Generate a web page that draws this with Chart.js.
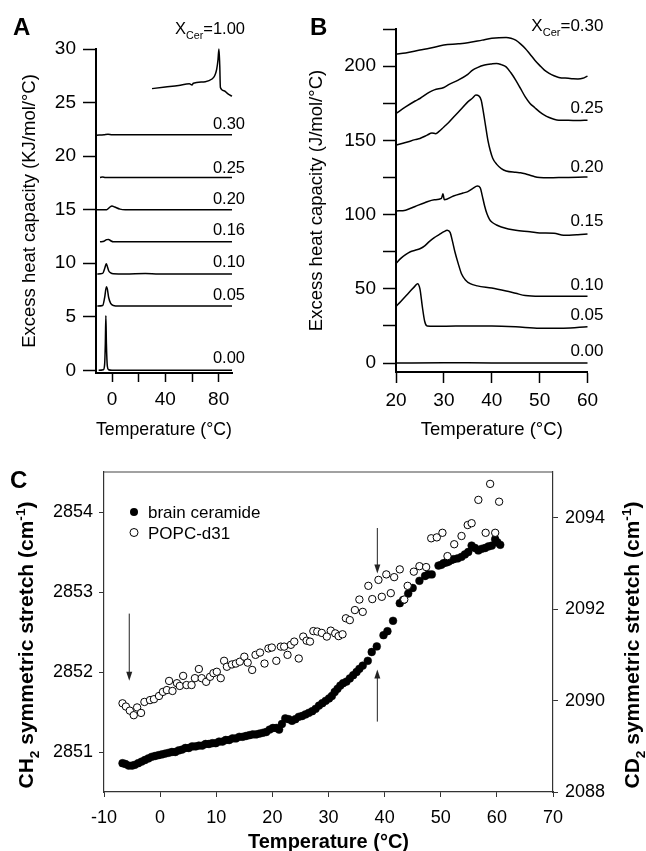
<!DOCTYPE html>
<html>
<head>
<meta charset="utf-8">
<script src="https://cdn.jsdelivr.net/npm/chart.js@4.4.1/dist/chart.umd.min.js"></script>
<style>
  html, body { margin: 0; padding: 0; background: #fff; }
  #figure { position: relative; width: 646px; height: 851px; overflow: hidden;
            font-family: "Liberation Sans", Arial, sans-serif; }
  .panel { position: absolute; }
  .letter { position: absolute; font-weight: bold; font-size: 24px; line-height: 24px; z-index: 2; }
</style>
</head>
<body>
<div id="figure">
  <canvas id="chartA" class="panel" width="300" height="445" style="left:0;top:0"></canvas>
  <canvas id="chartB" class="panel" width="346" height="445" style="left:300px;top:0"></canvas>
  <canvas id="chartC" class="panel" width="646" height="411" style="left:0;top:440px"></canvas>
  <div class="letter" style="left:13px;top:15px">A</div>
  <div class="letter" style="left:310px;top:15px">B</div>
  <div class="letter" style="left:10px;top:468px">C</div>
</div>
<script>
const FONT = "'Liberation Sans', Arial, Helvetica, sans-serif";
Chart.defaults.font.family = FONT;
Chart.defaults.color = "#000";
Chart.defaults.animation = false;
Chart.defaults.plugins.legend.display = false;
Chart.defaults.plugins.tooltip.enabled = false;

// ---------- Panel A : DSC scans, X_Cer 0 - 1 (KJ/mol/°C, offset) ----------
const aTempTicks = [0, 20, 40, 60, 80];
const aTempLabels = [0, 40, 80];
const aCpTicks = [0, 5, 10, 15, 20, 25, 30];
const aCurve000 = [[-10, 0], [-6.5, 0.05], [-5.5, 0.6], [-5, 2.5], [-4.6, 5.1], [-4.2, 2.5], [-3.5, 0.4], [-2.5, 0.05], [0, 0], [90, 0]];
const aCurve005 = [[-11, 6.0], [-7, 6.05], [-5.5, 6.8], [-4.2, 7.8], [-3.5, 7.6], [-2.5, 6.8], [-1, 6.25], [1, 6.05], [5, 6.0], [40, 6.0], [60, 6.0], [90, 6.0]];
const aCurve010 = [[-11, 9.0], [-7, 9.05], [-5.5, 9.5], [-4.3, 9.95], [-3.5, 9.7], [-2.5, 9.3], [-1, 9.1], [1, 9.02], [10, 9.0], [25, 9.05], [35, 9.0], [90, 9.0]];
const aCurve016 = [[-9, 12.0], [-6, 12.05], [-4, 12.2], [-2.5, 12.22], [-1, 12.1], [1, 12.0], [90, 12.0]];
const aCurve020 = [[-12, 15.0], [-4, 15.0], [-2, 15.2], [0, 15.35], [2, 15.25], [6, 15.05], [10, 15.0], [90, 15.0]];
const aCurve025 = [[-9, 18.0], [-7, 18.05], [-5, 18.0], [90, 18.0]];
const aCurve030 = [[-11.5, 21.95], [-6, 22.0], [-3, 22.05], [0, 22.0], [90, 22.0]];
const aCurve100 = [[30, 26.3], [40, 26.45], [50, 26.6], [58, 26.75], [60, 26.65], [61, 26.8], [70, 26.95], [75, 27.2], [77, 27.5], [78.5, 28.1], [79.5, 29.0], [80.2, 30.0], [80.8, 28.5], [81.3, 26.4], [84, 26.1], [87, 25.8], [90, 25.6]];
const aNames = ["0.30", "0.25", "0.20", "0.16", "0.10", "0.05", "0.00"];
const aNameY = [23.1, 19.0, 16.1, 13.15, 10.2, 7.17, 1.2];
const aTopY = 31.96;

// ---------- Panel B : DSC scans, X_Cer 0 - 0.30 (J/mol/°C, offset) ----------
const bTempTicks = [20, 30, 40, 50, 60];
const bCpTicks = [0, 25, 50, 75, 100, 125, 150, 175, 200, 225];
const bCpLabels = [0, 50, 100, 150, 200];
const bCurve000 = [[20, 0], [30, 0.3], [40, 0], [50, 0], [60, 0]];
const bCurve005 = [[20, 38.2], [21, 41.5], [22, 45], [23, 48.5], [24, 52], [24.5, 53.5], [25, 50], [25.5, 38], [26, 28], [26.5, 25], [28, 24.8], [30, 24.8], [35, 25], [40, 25], [45, 24.5], [50, 23.5], [55, 23.5], [60, 24.5]];
const bCurve010 = [[20, 67], [21, 70.5], [22, 73], [23, 75], [24, 76], [25, 77], [26, 79], [27, 82], [28, 84.5], [29, 86.5], [30, 88.5], [30.7, 89.4], [31.3, 88], [31.8, 82], [32.3, 75], [33, 67], [33.7, 60], [34.5, 56], [35.5, 53.5], [37, 52], [40, 50.5], [43, 48.5], [45, 47], [47, 45.5], [50, 45], [55, 45], [60, 45]];
const bCurve015 = [[20, 102.5], [22, 103], [24, 105.5], [26, 108], [28, 110], [29.5, 111], [29.8, 114], [30.1, 110], [32, 112.5], [34, 114.5], [35, 115.5], [36, 117.5], [37, 119.2], [37.6, 118], [38, 113], [38.5, 106], [39, 100.5], [39.5, 97], [40, 95], [41, 93], [42, 91.7], [45, 89.4], [48, 88.5], [50, 87.6], [53, 87.5], [55, 86.1], [58, 86.5], [60, 87]];
const bCurve020 = [[20, 146.8], [22, 148.5], [24, 150.5], [25, 151.3], [26.5, 153.5], [27.5, 155], [28.3, 154.5], [29, 156], [30, 159], [31, 162], [32, 165.5], [33, 169], [34, 172.5], [35, 175.9], [36, 178.5], [36.7, 180.5], [37.3, 180], [37.8, 177], [38.2, 170], [38.7, 160], [39.2, 150], [39.7, 143], [40.2, 138], [41, 134], [42, 131], [43, 129.4], [45, 128.5], [46, 128.2], [47, 127.5], [48, 126.5], [49, 125.5], [50, 125], [52, 124.8], [55, 125], [58, 125.2], [60, 125.4]];
const bCurve025 = [[20, 168.1], [22, 172.5], [24, 176.5], [25, 178.2], [27, 182.5], [28, 184], [30, 185.6], [31, 187.5], [33, 190.6], [35, 194.5], [36, 197.3], [37, 199], [38.5, 200.7], [40, 201.5], [41, 201.8], [42, 201], [43, 199.5], [44, 195.5], [45, 190.6], [46, 185], [47, 179.3], [48, 174.9], [49, 172], [50, 169.2], [51, 167], [52, 165.4], [53, 164.2], [54, 163.6], [56, 163.6], [58, 163.3], [60, 163.6]];
const bCurve030 = [[20, 208.1], [22, 208.8], [25, 210.8], [27, 212], [30, 214.2], [33, 215], [35, 215.7], [38, 217.5], [40, 218.7], [43, 219.3], [44, 218.8], [45, 217.5], [46, 215], [47, 211.9], [48, 208], [49, 204], [50, 200.5], [51, 197.3], [52, 195.1], [53, 193.5], [54, 192.4], [56, 191.8], [57, 191.5], [58, 191.4], [59, 191.8], [60, 193.3]];
const bNames = ["0.25", "0.20", "0.15", "0.10", "0.05", "0.00"];
const bNameY = [172.3, 132.6, 96.2, 53.5, 33.3, 8.6];
const bTopY = 227.6;

// ---------- Panel C : FTIR stretching frequencies ----------
const cTempTicks = [-10, 0, 10, 20, 30, 40, 50, 60, 70];
const cCH2Ticks = [2851, 2852, 2853, 2854];
const cCD2Ticks = [2088, 2090, 2092, 2094];
const ceramTemp = [-6.7, -6.2, -5.6, -5.0, -4.5, -3.9, -3.3, -2.7, -2.1, -1.5, -0.9, -0.3, 0.3, 0.9, 1.5, 2.1, 2.7, 3.3, 3.9, 4.5, 5.1, 5.7, 6.3, 6.9, 7.5, 8.1, 8.7, 9.3, 9.9, 10.5, 11.1, 11.7, 12.3, 12.9, 13.5, 14.1, 14.7, 15.3, 15.9, 16.5, 17.1, 17.7, 18.3, 18.9, 19.5, 20.1, 20.7, 21.2, 21.7, 22.3, 22.9, 23.5, 24.1, 24.7, 25.3, 25.9, 26.5, 27.1, 27.7, 28.3, 28.9, 29.5, 30.1, 30.6, 31.1, 31.6, 32.1, 32.6, 33.2, 33.8, 34.4, 35.0, 35.5, 36.1, 37.0, 37.7, 38.6, 39.8, 40.5, 41.5, 42.7, 43.3, 44.2, 45.0, 46.2, 47.2, 47.8, 48.4, 49.6, 50.1, 50.5, 51.0, 51.4, 51.9, 52.3, 53.0, 53.7, 54.3, 54.9, 55.5, 56.1, 56.7, 57.3, 57.9, 58.5, 59.1, 59.7, 60.1, 60.6];
const ceramCH2 = [2850.86, 2850.85, 2850.83, 2850.83, 2850.84, 2850.86, 2850.88, 2850.90, 2850.92, 2850.94, 2850.95, 2850.96, 2850.97, 2850.98, 2850.99, 2851.00, 2851.00, 2851.02, 2851.03, 2851.05, 2851.05, 2851.07, 2851.07, 2851.08, 2851.08, 2851.10, 2851.10, 2851.11, 2851.11, 2851.13, 2851.13, 2851.15, 2851.15, 2851.17, 2851.17, 2851.19, 2851.19, 2851.20, 2851.21, 2851.22, 2851.22, 2851.23, 2851.24, 2851.25, 2851.28, 2851.30, 2851.30, 2851.28, 2851.35, 2851.42, 2851.41, 2851.39, 2851.41, 2851.44, 2851.45, 2851.47, 2851.49, 2851.51, 2851.54, 2851.58, 2851.61, 2851.64, 2851.67, 2851.70, 2851.75, 2851.79, 2851.83, 2851.86, 2851.88, 2851.92, 2851.96, 2852.00, 2852.04, 2852.08, 2852.14, 2852.25, 2852.32, 2852.46, 2852.51, 2852.64, 2852.86, 2852.90, 2852.98, 2853.05, 2853.14, 2853.20, 2853.22, 2853.22, 2853.33, 2853.34, 2853.36, 2853.37, 2853.38, 2853.40, 2853.41, 2853.42, 2853.44, 2853.47, 2853.50, 2853.58, 2853.55, 2853.52, 2853.54, 2853.55, 2853.57, 2853.58, 2853.66, 2853.62, 2853.59];
const popcTemp = [-6.7, -6.1, -5.4, -4.7, -4.1, -3.4, -2.8, -1.8, -1.1, -0.2, 0.5, 1.2, 1.6, 2.2, 3.0, 3.5, 4.1, 4.7, 5.6, 6.2, 6.9, 7.4, 8.2, 8.9, 9.5, 10.1, 10.8, 11.4, 11.9, 12.8, 13.5, 14.2, 15.0, 15.6, 16.4, 17.0, 17.8, 18.6, 19.3, 19.9, 20.7, 21.5, 22.1, 22.7, 23.3, 23.9, 24.7, 25.5, 26.1, 26.7, 27.3, 28.0, 28.8, 29.7, 30.4, 31.2, 31.8, 32.5, 33.1, 33.8, 34.7, 35.5, 36.1, 37.1, 37.8, 38.9, 39.5, 40.3, 41.1, 41.7, 42.7, 43.5, 44.1, 45.2, 46.2, 47.4, 48.3, 49.3, 50.3, 51.2, 52.4, 53.7, 54.8, 55.5, 56.7, 58.0, 58.8, 59.7, 60.4];
const popcCD2 = [2089.94, 2089.87, 2089.78, 2089.68, 2089.85, 2089.73, 2089.97, 2090.01, 2090.03, 2090.10, 2090.19, 2090.23, 2090.43, 2090.21, 2090.38, 2090.32, 2090.54, 2090.34, 2090.34, 2090.49, 2090.69, 2090.49, 2090.41, 2090.52, 2090.60, 2090.63, 2090.49, 2090.87, 2090.74, 2090.79, 2090.81, 2090.85, 2090.96, 2090.83, 2090.67, 2091.00, 2091.05, 2090.81, 2091.14, 2091.16, 2090.87, 2091.18, 2091.18, 2091.00, 2091.22, 2091.29, 2090.92, 2091.40, 2091.31, 2091.29, 2091.52, 2091.51, 2091.48, 2091.40, 2091.53, 2091.47, 2091.41, 2091.45, 2091.80, 2091.76, 2091.98, 2092.21, 2091.94, 2092.51, 2092.22, 2092.64, 2092.27, 2092.76, 2092.35, 2092.70, 2092.87, 2092.21, 2092.51, 2092.82, 2092.94, 2092.92, 2093.55, 2093.57, 2093.67, 2093.16, 2093.42, 2093.60, 2093.84, 2093.88, 2094.39, 2093.67, 2094.74, 2093.67, 2094.35];
// arrows (temperature, CH2 start -> CH2 end)
const arrowTemp = [-5.5, 38.7, 38.7];
const arrowFrom = [2852.73, 2853.8, 2851.38];
const arrowTo = [2851.89, 2853.23, 2852.03];

// helpers
const toPoints = (pairs) => pairs.map(([x, y]) => ({ x, y }));
const zipPoints = (xs, ys) => xs.map((x, i) => ({ x, y: ys[i] }));
const setTicks = (values) => (axis) => { axis.ticks = values.map((v) => ({ value: v })); };

function richWidth(ctx, parts, size, weight) {
  let w = 0;
  parts.forEach(([t, m]) => {
    ctx.font = `${weight} ${m ? size * 0.65 : size}px ${FONT}`;
    w += ctx.measureText(t).width;
  });
  return w;
}

// draws text with sub/superscript parts, y is the baseline
function drawRich(ctx, parts, x, y, size, weight, align) {
  const total = richWidth(ctx, parts, size, weight);
  let cx = align === "right" ? x - total : align === "center" ? x - total / 2 : x;
  ctx.textAlign = "left";
  ctx.textBaseline = "alphabetic";
  parts.forEach(([t, m]) => {
    const s = m ? size * 0.65 : size;
    ctx.font = `${weight} ${s}px ${FONT}`;
    const dy = m === "sub" ? size * 0.28 : m === "sup" ? -size * 0.42 : 0;
    ctx.fillText(t, cx, y + dy);
    cx += ctx.measureText(t).width;
  });
}

function drawRotated(ctx, parts, x, y, size, weight) {
  ctx.save();
  ctx.translate(x, y);
  ctx.rotate(-Math.PI / 2);
  drawRich(ctx, parts, 0, size * 0.35, size, weight, "center");
  ctx.restore();
}

function lineSet(pairs) {
  return {
    data: toPoints(pairs),
    borderColor: "#000",
    borderWidth: 1.5,
    pointRadius: 0,
    cubicInterpolationMode: "monotone",
    clip: false,
  };
}

function dscAxes(cfg) {
  return {
    x: {
      type: "linear",
      min: cfg.xMin,
      max: cfg.xMax,
      afterBuildTicks: setTicks(cfg.xTicks),
      afterFit: (s) => { s.height = cfg.xHeight; },
      grid: { drawOnChartArea: false, drawTicks: true, tickLength: cfg.xTickLen, color: "#000", tickWidth: 1.5 },
      border: { display: true, color: "#000", width: 2 },
      ticks: {
        color: "#000",
        font: { size: 19 },
        padding: 6,
        maxRotation: 0,
        autoSkip: false,
        callback: (v) => (cfg.xLabels.includes(v) ? String(v) : ""),
      },
      title: { display: true, text: "Temperature (°C)", color: "#000", font: { size: 18.5 }, padding: { bottom: 4 } },
    },
    y: {
      min: cfg.yMin,
      max: cfg.yMax,
      afterBuildTicks: setTicks(cfg.yTicks),
      afterFit: (s) => { s.width = cfg.yWidth; },
      grid: { drawOnChartArea: false, drawTicks: true, tickLength: 13, color: "#000", tickWidth: 1.5 },
      border: { display: true, color: "#000", width: 2 },
      ticks: {
        color: "#000",
        font: { size: 19 },
        padding: 7,
        autoSkip: false,
        callback: (v) => (cfg.yLabels.includes(v) ? String(v) : ""),
      },
      title: { display: true, text: cfg.yTitle, color: "#000", font: { size: 18.5 }, padding: { top: cfg.yTitlePad } },
    },
  };
}

// ---------- chart A ----------
const labelsA = {
  id: "labelsA",
  afterDatasetsDraw(chart) {
    const { ctx, scales: { x, y } } = chart;
    const rx = x.getPixelForValue(90) + 13;
    ctx.save();
    ctx.fillStyle = "#000";
    aNames.forEach((n, i) => drawRich(ctx, [[n, ""]], rx, y.getPixelForValue(aNameY[i]) + 6, 16.5, "normal", "right"));
    drawRich(ctx, [["X", ""], ["Cer", "sub"], ["=1.00", ""]], rx, y.getPixelForValue(aTopY) + 6, 16.5, "normal", "right");
    ctx.restore();
  },
};

new Chart(document.getElementById("chartA"), {
  type: "line",
  data: {
    datasets: [aCurve000, aCurve005, aCurve010, aCurve016, aCurve020, aCurve025, aCurve030, aCurve100].map(lineSet),
  },
  options: {
    responsive: false,
    layout: { padding: { left: 0, top: 49, right: 68, bottom: 0 } },
    scales: dscAxes({
      xMin: -12, xMax: 90, xTicks: aTempTicks, xLabels: aTempLabels, xHeight: 72, xTickLen: 9,
      yMin: -0.25, yMax: 30, yTicks: aCpTicks, yLabels: aCpTicks, yWidth: 96,
      yTitle: "Excess heat capacity (KJ/mol/°C)", yTitlePad: 19,
    }),
  },
  plugins: [labelsA],
});

// ---------- chart B ----------
const labelsB = {
  id: "labelsB",
  afterDatasetsDraw(chart) {
    const { ctx, scales: { x, y } } = chart;
    const rx = x.getPixelForValue(60) + 16;
    ctx.save();
    ctx.fillStyle = "#000";
    bNames.forEach((n, i) => drawRich(ctx, [[n, ""]], rx, y.getPixelForValue(bNameY[i]) + 6, 17, "normal", "right"));
    drawRich(ctx, [["X", ""], ["Cer", "sub"], ["=0.30", ""]], rx, y.getPixelForValue(bTopY) + 6, 17, "normal", "right");
    ctx.restore();
  },
};

new Chart(document.getElementById("chartB"), {
  type: "line",
  data: {
    datasets: [bCurve000, bCurve005, bCurve010, bCurve015, bCurve020, bCurve025, bCurve030].map(lineSet),
  },
  options: {
    responsive: false,
    layout: { padding: { left: 0, top: 29, right: 58.5, bottom: 0 } },
    scales: dscAxes({
      xMin: 20, xMax: 60, xTicks: bTempTicks, xLabels: bTempTicks, xHeight: 73, xTickLen: 11,
      yMin: -6, yMax: 225, yTicks: bCpTicks, yLabels: bCpLabels, yWidth: 96,
      yTitle: "Excess heat capacity (J/mol/°C)", yTitlePad: 6,
    }),
  },
  plugins: [labelsB],
});

// ---------- chart C ----------
const extrasC = {
  id: "extrasC",
  afterDatasetsDraw(chart) {
    const { ctx, chartArea: area, scales: { x, y } } = chart;
    ctx.save();
    // top frame line
    ctx.strokeStyle = "#444";
    ctx.lineWidth = 1.2;
    ctx.beginPath();
    ctx.moveTo(area.left, area.top);
    ctx.lineTo(area.right, area.top);
    ctx.stroke();

    // arrows
    ctx.strokeStyle = "#222";
    ctx.fillStyle = "#222";
    ctx.lineWidth = 1;
    arrowTemp.forEach((t, i) => {
      const px = x.getPixelForValue(t);
      const y0 = y.getPixelForValue(arrowFrom[i]);
      const y1 = y.getPixelForValue(arrowTo[i]);
      const dir = Math.sign(y1 - y0);
      ctx.beginPath();
      ctx.moveTo(px, y0);
      ctx.lineTo(px, y1 - dir * 6);
      ctx.stroke();
      ctx.beginPath();
      ctx.moveTo(px, y1);
      ctx.lineTo(px - 3, y1 - dir * 9);
      ctx.lineTo(px + 3, y1 - dir * 9);
      ctx.closePath();
      ctx.fill();
    });

    // legend
    const lx = area.left + 30;
    ctx.fillStyle = "#000";
    ctx.beginPath();
    ctx.arc(lx, area.top + 40, 4, 0, Math.PI * 2);
    ctx.fill();
    ctx.strokeStyle = "#000";
    ctx.beginPath();
    ctx.arc(lx, area.top + 60.5, 4, 0, Math.PI * 2);
    ctx.stroke();
    drawRich(ctx, [["brain ceramide", ""]], lx + 14, area.top + 46, 17, "normal", "left");
    drawRich(ctx, [["POPC-d31", ""]], lx + 14, area.top + 66.5, 17, "normal", "left");

    // axis titles with sub/superscripts
    drawRotated(ctx, [["CH", ""], ["2", "sub"], [" symmetric stretch (cm", ""], ["-1", "sup"], [")", ""]], 26, 205, 21, "bold");
    drawRotated(ctx, [["CD", ""], ["2", "sub"], [" symmetric stretch (cm", ""], ["-1", "sup"], [")", ""]], 632, 205, 21, "bold");
    ctx.restore();
  },
};

new Chart(document.getElementById("chartC"), {
  type: "scatter",
  data: {
    datasets: [
      {
        label: "POPC-d31",
        data: zipPoints(popcTemp, popcCD2),
        yAxisID: "y2",
        pointRadius: 3.7,
        pointBackgroundColor: "#fff",
        pointBorderColor: "#000",
        pointBorderWidth: 1,
        order: 1,
      },
      {
        label: "brain ceramide",
        data: zipPoints(ceramTemp, ceramCH2),
        yAxisID: "y",
        pointRadius: 3.9,
        pointBackgroundColor: "#000",
        pointBorderColor: "#000",
        pointBorderWidth: 0.5,
        order: 2,
      },
    ],
  },
  options: {
    responsive: false,
    layout: { padding: { left: 0, top: 32, right: 0, bottom: 0 } },
    scales: {
      x: {
        type: "linear",
        min: -10,
        max: 70,
        afterBuildTicks: setTicks(cTempTicks),
        afterFit: (s) => { s.height = 59; },
        grid: { drawOnChartArea: false, tickLength: 5, color: "#333", tickWidth: 1 },
        border: { display: true, color: "#333", width: 1.2 },
        ticks: { color: "#000", font: { size: 18 }, padding: 10, maxRotation: 0, autoSkip: false, callback: (v) => String(v) },
        title: { display: true, text: "Temperature (°C)", color: "#000", font: { size: 20, weight: "bold", lineHeight: 0.9 }, padding: 0 },
      },
      y: {
        position: "left",
        min: 2850.5,
        max: 2854.5,
        afterBuildTicks: setTicks(cCH2Ticks),
        afterFit: (s) => { s.width = 104; },
        grid: { drawOnChartArea: false, tickLength: 5, color: "#333", tickWidth: 1 },
        border: { display: true, color: "#333", width: 1.2 },
        ticks: { color: "#000", font: { size: 18 }, padding: 6, autoSkip: false, callback: (v) => String(v) },
      },
      y2: {
        position: "right",
        min: 2088,
        max: 2095,
        afterBuildTicks: setTicks(cCD2Ticks),
        afterFit: (s) => { s.width = 93; },
        grid: { drawOnChartArea: false, tickLength: 5, color: "#333", tickWidth: 1 },
        border: { display: true, color: "#333", width: 1.2 },
        ticks: { color: "#000", font: { size: 18 }, padding: 7, autoSkip: false, callback: (v) => String(v) },
      },
    },
  },
  plugins: [extrasC],
});
</script>
</body>
</html>
